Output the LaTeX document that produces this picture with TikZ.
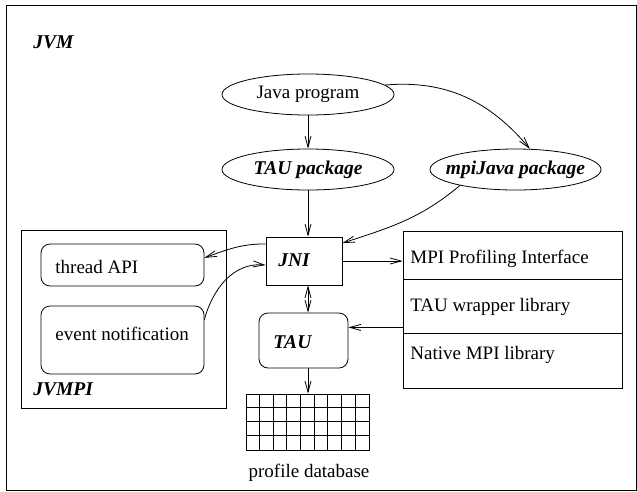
\documentclass[tikz,border=0pt]{standalone}
\usepackage{fontspec}
\setmainfont{Liberation Serif}
\usetikzlibrary{shapes.geometric,arrows.meta}

\tikzset{every path/.style={line width=0.8pt},
  txt/.style={font=\fontsize{19pt}{22pt}\selectfont},
  bi/.style={font=\fontsize{19.5pt}{22pt}\selectfont\bfseries\itshape},
  lbl/.style={anchor=west,inner sep=0pt},
  oval/.style={draw,ellipse,minimum width=172pt,minimum height=41pt,inner sep=0pt},
  box/.style={draw,rectangle,inner sep=0pt},
  rbox/.style={draw,rectangle,rounded corners=9pt,inner sep=0pt},
  arr/.style={-{Straight Barb[length=11pt,width=6pt]}},
  darr/.style={{Straight Barb[length=11pt,width=6pt]}-{Straight Barb[length=11pt,width=6pt]}}}

\begin{document}
\begin{tikzpicture}[x=1pt,y=-1pt]
\useasboundingbox (0,0) rectangle (637,491);
\draw (6,5) rectangle (636,490);
\node[bi,lbl] (jvm) at (33,42) {JVM};

\node[oval,label={[txt]center:Java program}] (java) at (308,94.5) {};
\node[oval,label={[bi]center:TAU package}] (taupkg) at (308,169.5) {};
\node[oval,minimum width=171pt,label={[bi]center:mpiJava package}] (mpijava) at (515.5,169.5) {};

\node[box,minimum width=76pt,minimum height=48pt] (jni) at (304,261) {};
\node[bi,lbl] (jnilabel) at (278,260) {JNI};
\node[rbox,minimum width=89pt,minimum height=55pt] (tau) at (303.5,340.5) {};
\node[bi,lbl] (taulabel) at (273,342) {TAU};

\node[box,minimum width=123pt,minimum height=56pt] (db) at (307.5,422) {};
\foreach \i in {1,...,8}
  \draw ([xshift=\i*13.667pt]db.north west) -- ([xshift=\i*13.667pt]db.south west);
\foreach \j in {1,2,3}
  \draw ([yshift=-\j*14pt]db.north west) -- ([yshift=-\j*14pt]db.north east);
\node[txt] (dblabel) at (309,473) {profile database};

\node[box,minimum width=219pt,minimum height=48pt] (prof) at (512.5,255) {};
\node[box,minimum width=219pt,minimum height=54pt] (wrap) at (512.5,306) {};
\node[box,minimum width=219pt,minimum height=55pt] (native) at (512.5,360.5) {};
\node[txt,lbl] (proflabel) at (410,259) {MPI Profiling Interface};
\node[txt,lbl] (wraplabel) at (410,307) {TAU wrapper library};
\node[txt,lbl] (nativelabel) at (410,355) {Native MPI library};

\draw (21,230) rectangle (226,408);
\node[bi,lbl] (jvmpi) at (33,389) {JVMPI};
\node[rbox,minimum width=163pt,minimum height=42pt] (thread) at (122.5,265) {};
\node[txt,lbl] (threadlabel) at (55,267) {thread API};
\node[rbox,minimum width=163pt,minimum height=68pt] (ev) at (122.5,340) {};
\node[txt,lbl] (evlabel) at (55,334) {event notification};

\draw[arr] (java) -- (taupkg);
\draw[arr] (java.7) to[out=5,in=130] (mpijava.55);
\draw[arr] (taupkg.south) -- (taupkg.south |- jni.north);
\draw[arr] (mpijava.196) to[out=-140,in=18] (jni.25);
\draw[arr] (jni.east) -- (jni.east -| prof.west);
\draw[arr] ([yshift=6pt]wrap.south west) -- ([yshift=6pt]wrap.south west -| tau.east);
\draw[darr] (jni.south -| taupkg.south) -- (tau.north -| taupkg.south);
\draw[arr] (tau.south -| taupkg.south) -- (db.north -| taupkg.south);
\draw[arr] (jni.156) to[out=180,in=20] (thread.5);
\draw[arr] (ev.14) to[out=75,in=175] (jni.186);

\end{tikzpicture}
\end{document}
